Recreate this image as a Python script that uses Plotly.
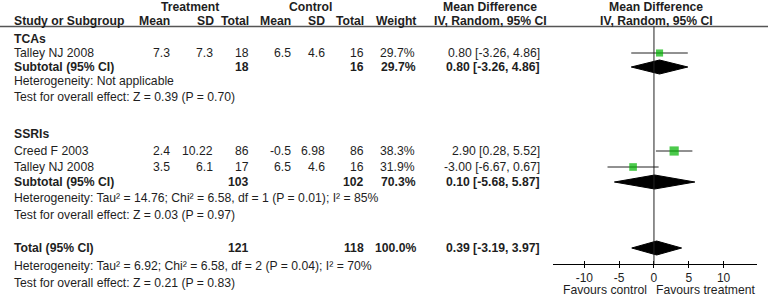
import plotly.graph_objects as go

# ---------------- data ----------------
study_labels = ["Talley NJ 2008", "Creed F 2003", "Talley NJ 2008"]
t_mean = ["7.3", "2.4", "3.5"]
t_sd = ["7.3", "10.22", "6.1"]
t_total = ["18", "86", "17"]
c_mean = ["6.5", "-0.5", "6.5"]
c_sd = ["4.6", "6.98", "4.6"]
c_total = ["16", "86", "16"]
weights = [29.7, 38.3, 31.9]
md = [0.80, 2.90, -3.00]
ci_lo = [-3.26, 0.28, -6.67]
ci_hi = [4.86, 5.52, 0.67]

pooled_labels = ["Subtotal (95% CI)", "Subtotal (95% CI)", "Total (95% CI)"]
pooled_t_total = ["18", "103", "121"]
pooled_c_total = ["16", "102", "118"]
pooled_weight = ["29.7%", "70.3%", "100.0%"]
pooled_md = [0.80, 0.10, 0.39]
pooled_lo = [-3.26, -5.68, -3.19]
pooled_hi = [4.86, 5.87, 3.97]

groups = ["TCAs", "SSRIs"]
het_texts = [
    "Heterogeneity: Not applicable",
    "Heterogeneity: Tau\u00b2 = 14.76; Chi\u00b2 = 6.58, df = 1 (P = 0.01); I\u00b2 = 85%",
    "Heterogeneity: Tau\u00b2 = 6.92; Chi\u00b2 = 6.58, df = 2 (P = 0.04); I\u00b2 = 70%",
]
test_texts = [
    "Test for overall effect: Z = 0.39 (P = 0.70)",
    "Test for overall effect: Z = 0.03 (P = 0.97)",
    "Test for overall effect: Z = 0.21 (P = 0.83)",
]
tick_vals = [-10, -5, 0, 5, 10]
tick_text = ["-10", "-5", "0", "5", "10"]
favours = ["Favours control", "Favours treatment"]

# ---------------- layout (reference pixel rows) ----------------
W, H = 768, 297
study_y = [53, 151, 167]
pooled_y = [67, 182, 248]
group_y = [39, 134]
het_y = [81, 198, 266]
test_y = [97, 215, 283]
axis_y = 264
FONT = "Liberation Sans, Arial, sans-serif"
TXT = "#1e1e1e"
GREEN = "#00b300"

def px(x):
    return x / W

fig = go.Figure()
ann = []

def add(text, x, y, anchor="left", bold=False, pad=1):
    ann.append(dict(text=("<b>%s</b>" % text) if bold else text, x=px(x), y=y,
                    xref="paper", yref="y", xanchor=anchor, yanchor="middle",
                    showarrow=False, borderpad=pad,
                    font=dict(family=FONT, size=12.2, color=TXT)))

def fmt_ci(m, l, h):
    return "%.2f [%.2f, %.2f]" % (m, l, h)

# headers
add("Treatment", 190, 7, "center", True)
add("Control", 310, 7, "center", True)
add("Mean Difference", 490, 7, "center", True)
add("Mean Difference", 656, 7, "center", True)
add("Study or Subgroup", 12, 21, "left", True)
for t, x in [("Mean", 172), ("SD", 216), ("Total", 251), ("Mean", 293),
             ("SD", 327), ("Total", 366), ("Weight", 418)]:
    add(t, x, 21, "right", True)
add("IV, Random, 95% CI", 490, 21, "center", True)
add("IV, Random, 95% CI", 656, 21, "center", True)

for g, y in zip(groups, group_y):
    add(g, 12, y, "left", True)

for i in range(3):
    y = study_y[i]
    add(study_labels[i], 12, y)
    add(t_mean[i], 172, y, "right")
    add(t_sd[i], 215, y, "right")
    add(t_total[i], 251, y, "right")
    add(c_mean[i], 293, y, "right")
    add(c_sd[i], 327, y, "right")
    add(c_total[i], 366, y, "right")
    add("%.1f%%" % weights[i], 417, y, "right")
    add(fmt_ci(md[i], ci_lo[i], ci_hi[i]), 542, y, "right")

for i in range(3):
    y = pooled_y[i]
    add(pooled_labels[i], 12, y, "left", True)
    add(pooled_t_total[i], 251, y, "right", True)
    add(pooled_c_total[i], 366, y, "right", True)
    add(pooled_weight[i], 418, y, "right", True)
    add(fmt_ci(pooled_md[i], pooled_lo[i], pooled_hi[i]), 542, y, "right", True)

for t, y in zip(het_texts, het_y):
    add(t, 12, y)
for t, y in zip(test_texts, test_y):
    add(t, 12, y)

add(favours[0], 648, 290, "right", pad=0)
add(favours[1], 655, 290, "left", pad=0)

# CI lines and squares
for i in range(3):
    fig.add_trace(go.Scatter(x=[ci_lo[i], ci_hi[i]], y=[study_y[i]] * 2, mode="lines",
                             line=dict(color="#222222", width=1), hoverinfo="skip",
                             showlegend=False))
fig.add_trace(go.Scatter(x=md, y=study_y, mode="markers",
                         marker=dict(symbol="square", color=GREEN,
                                     size=[w * 0.24 for w in weights], line=dict(width=0)),
                         showlegend=False))
# diamonds
for i in range(3):
    y = pooled_y[i]
    fig.add_trace(go.Scatter(x=[pooled_lo[i], pooled_md[i], pooled_hi[i], pooled_md[i], pooled_lo[i]],
                             y=[y, y - 7, y, y + 7, y], mode="lines", fill="toself",
                             fillcolor="black", line=dict(color="black", width=1),
                             hoverinfo="skip", showlegend=False))
# dummy for overlaid axis
fig.add_trace(go.Scatter(x=[0], y=[axis_y], xaxis="x2", mode="markers",
                         marker=dict(opacity=0), showlegend=False, hoverinfo="skip"))

shapes = [
    dict(type="line", xref="paper", yref="y", x0=0, x1=1, y0=26.5, y1=26.5,
         line=dict(color="#555555", width=1.5)),
    dict(type="line", xref="x", yref="y", x0=0, x1=0, y0=26.5, y1=axis_y,
         line=dict(color="#222222", width=1)),
]

dom = [px(553), px(757)]
pos = 1 - axis_y / H
fig.update_layout(
    width=W, height=H, margin=dict(l=0, r=0, t=0, b=0),
    paper_bgcolor="white", plot_bgcolor="white",
    annotations=ann, shapes=shapes,
    xaxis=dict(domain=dom, range=[-14.5, 14.8], anchor="free", position=pos,
               showline=True, linecolor="black", linewidth=1, ticks="outside",
               ticklen=3, tickcolor="black", tickvals=tick_vals, ticktext=tick_text,
               tickfont=dict(family=FONT, size=12, color=TXT), showgrid=False,
               zeroline=False, fixedrange=True),
    xaxis2=dict(domain=dom, range=[-14.5, 14.8], overlaying="x", anchor="free",
                position=pos, showline=False, ticks="inside", ticklen=3,
                tickcolor="black", tickvals=tick_vals, showticklabels=False,
                showgrid=False, zeroline=False),
    yaxis=dict(domain=[0, 1], range=[H, 0], visible=False, fixedrange=True),
)

fig.write_html("out.html", config={"displayModeBar": False},
               post_script="document.body.style.margin='0';document.body.style.overflow='hidden';")
